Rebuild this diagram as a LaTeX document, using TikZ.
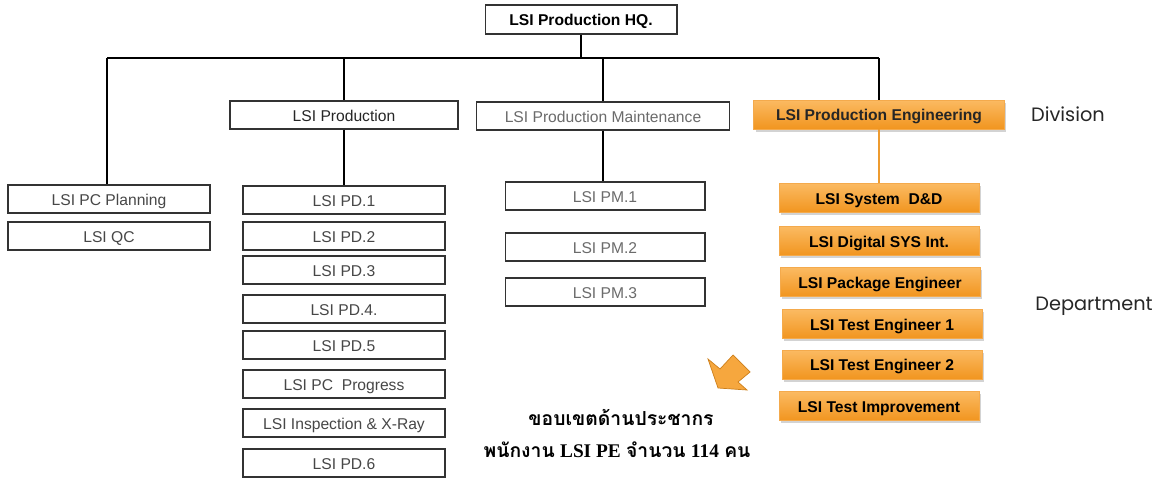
\documentclass[tikz,border=0pt]{standalone}
\usepackage{fontspec}
\setmainfont{Liberation Sans}
\newfontfamily\thaifont[Script=Thai]{Loma}
\newfontfamily\latinserif{Liberation Serif}
\newfontfamily\levelfont{Poppins}
\usetikzlibrary{shadows}
\definecolor{peLight}{HTML}{FBBA62}
\definecolor{peDark}{HTML}{F1951F}
\definecolor{peLine}{HTML}{EE9B2F}
\definecolor{peArrow}{HTML}{F6A73E}
\newcommand{\thb}[1]{{\thaifont\bfseries #1}}
\newcommand{\lsb}[1]{{\latinserif\bfseries #1}}

\begin{document}
\begin{tikzpicture}[x=0.02cm, y=-0.02cm]
    % Styles
    \tikzstyle{unit} = [rectangle, draw=black!80, line width=0.6pt, minimum width=4.04cm, minimum height=0.56cm, inner sep=0pt, text height=1.55ex, text depth=0.25ex, fill=white, text=black!72, font=\fontsize{8.9}{10}\selectfont]
    \tikzstyle{pmunit} = [unit, minimum width=4.0cm, text=black!58]
    \tikzstyle{peunit} = [rectangle, minimum width=4.0cm, minimum height=0.58cm, inner sep=0pt, text height=1.55ex, text depth=0.25ex, top color=peLight, bottom color=peDark, draw=peDark!80, line width=0.3pt, drop shadow={opacity=0.35, shadow xshift=0.04cm, shadow yshift=-0.05cm}, font=\fontsize{8.9}{10}\selectfont\bfseries]
    \tikzstyle{link} = [draw=black, line width=0.6pt]
    \tikzstyle{level} = [font=\levelfont\fontsize{11}{13}\selectfont, text=black!85]

    \useasboundingbox (0,0) rectangle (1162,477);

    % Top level
    \node[unit, minimum width=3.84cm, minimum height=0.58cm, text=black, font=\fontsize{8.9}{10}\selectfont\bfseries] (hq) at (581,19.5) {LSI Production HQ.};

    % Divisions
    \node[unit, minimum width=4.56cm, text=black!85] (prod) at (344,115) {LSI Production};
    \node[pmunit, minimum width=5.06cm] (maint) at (603,116) {LSI Production Maintenance};
    \node[peunit, minimum width=5.02cm, text=black!85] (pe) at (879,114.5) {LSI Production Engineering};

    % Left column
    \node[unit] (plan) at (109,199) {LSI PC Planning};
    \node[unit] (qc) at (109,236) {LSI QC};

    % Production departments
    \node[unit] (pd1) at (344,200) {LSI PD.1};
    \node[unit] (pd2) at (344,236) {LSI PD.2};
    \node[unit] (pd3) at (344,270) {LSI PD.3};
    \node[unit] (pd4) at (344,309) {LSI PD.4.};
    \node[unit] (pd5) at (344,345) {LSI PD.5};
    \node[unit] (prog) at (344,384) {LSI PC\ \ Progress};
    \node[unit] (xray) at (344,423) {LSI Inspection \& X-Ray};
    \node[unit] (pd6) at (344,463) {LSI PD.6};

    % Maintenance departments
    \node[pmunit] (pm1) at (605,196) {LSI PM.1};
    \node[pmunit] (pm2) at (605,247) {LSI PM.2};
    \node[pmunit] (pm3) at (605,292) {LSI PM.3};

    % Engineering departments
    \node[peunit] (sysdd) at (879,198) {LSI System\ \ D\&D};
    \node[peunit] (digi) at (879,241) {LSI Digital SYS Int.};
    \node[peunit] (pkg) at (880,282) {LSI Package Engineer};
    \node[peunit] (test1) at (882,324) {LSI Test Engineer 1};
    \node[peunit] (test2) at (882,364.5) {LSI Test Engineer 2};
    \node[peunit] (improve) at (879,406) {LSI Test Improvement};

    % Connectors
    \coordinate (busL) at (107,58);
    \coordinate (busR) at (879,58);
    \draw[link] (busL) -- (busR);
    \draw[link] (hq) -- (hq |- busL);
    \draw[link] (busL) -- (busL |- plan.north);
    \draw[link] (prod.north |- busL) -- (prod);
    \draw[link] (maint.north |- busL) -- (maint);
    \draw[link] (busR) -- (pe);
    \draw[link] (prod) -- (pd1);
    \draw[link] (maint) -- (maint |- pm1.north);
    \draw[draw=peLine, line width=1.2pt] (pe) -- (sysdd);

    % Levels
    \node[level] (division) at (1068,114) {Division};
    \node[level] (department) at (1094,306) {Department};

    % Arrow and note
    \filldraw[fill=peArrow, draw=peDark!85!black, line width=0.4pt] (718,388) -- (708,359) -- (720,369) -- (733,355) -- (750,372) -- (738,382) -- (747,390) -- cycle;
    \node[font=\fontsize{11}{13}\selectfont] (scope) at (621,417) {\thb{ขอบเขตด้านประชากร}};
    \node[font=\fontsize{11}{13}\selectfont] (staff) at (617,450) {\thb{พนักงาน} \lsb{LSI PE} \thb{จำนวน} \lsb{114} \thb{คน}};
\end{tikzpicture}
\end{document}
